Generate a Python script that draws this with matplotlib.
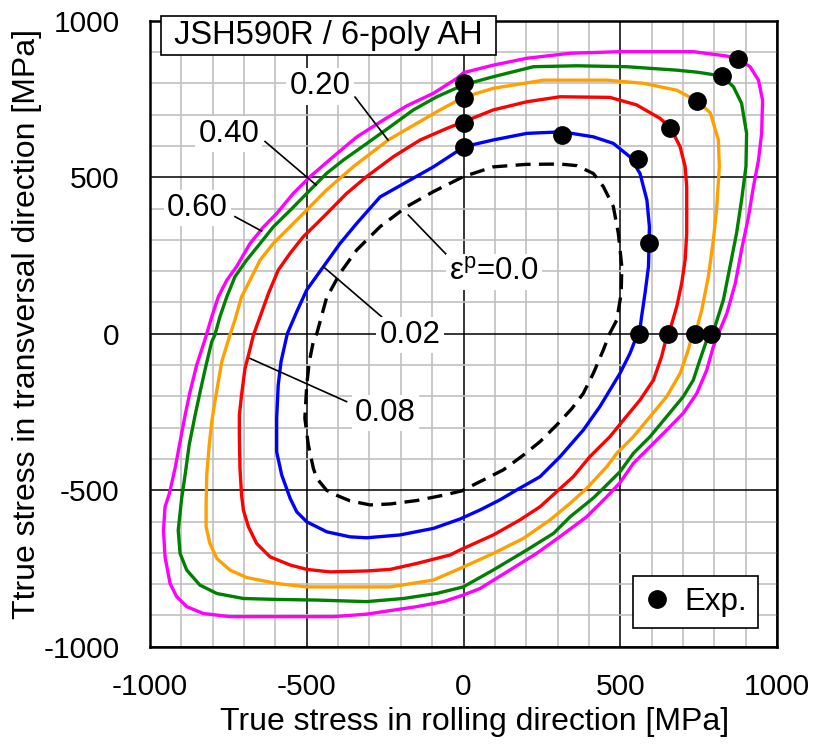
import matplotlib
matplotlib.use('Agg')
import matplotlib.pyplot as plt
import numpy as np

plt.rcParams['font.family'] = ['Liberation Sans', 'DejaVu Sans']
plt.rcParams['mathtext.fontset'] = 'custom'
plt.rcParams['mathtext.rm'] = 'Liberation Sans'
plt.rcParams['axes.unicode_minus'] = False

# yield loci (MPa), counter-clockwise from the RD axis
locus_000 = [(466,0),(489,44),(503,129),(505,214),(494,320),(478,406),(446,470),(414,512),(361,537),
             (308,542),(200,541),(95,533),(0,502),(-96,454),(-181,406),(-266,342),(-341,267),(-394,193),
             (-437,114),(-468,0),(-479,-25),(-492,-90),(-500,-164),(-506,-270),(-495,-355),(-479,-430),
             (-468,-462),(-437,-500),(-415,-512),(-362,-534),(-298,-547),(-234,-544),(-149,-533),(-64,-516),
             (-5,-502),(10,-494),(74,-462),(127,-435),(191,-388),(244,-345),(297,-292),(345,-240),
             (382,-191),(414,-127),(446,-52)]
locus_002 = [(561,0),(568,54),(579,129),(590,214),(592,289),(593,342),(585,427),(563,512),(531,565),
             (478,608),(414,629),(314,645),(202,640),(95,619),(0,597),(-21,582),(-96,533),(-181,485),
             (-266,437),(-341,352),(-394,288),(-447,214),(-500,140),(-532,70),(-562,0),(-582,-89),
             (-591,-164),(-596,-270),(-596,-377),(-580,-451),(-553,-526),(-532,-569),(-500,-601),
             (-436,-633),(-362,-649),(-309,-652),(-203,-643),(-96,-622),(-11,-592),(53,-563),(116,-531),
             (170,-499),(244,-457),(308,-393),(382,-308),(435,-233),(467,-180),(499,-127),(531,-63),(552,-9)]
locus_008 = [(655,0),(680,86),(696,161),(707,236),(712,321),(712,470),(707,534),(691,597),(660,658),
             (627,688),(552,731),(467,755),(308,757),(202,741),(95,715),(0,677),(-53,656),(-138,619),
             (-223,566),(-309,502),(-373,448),(-436,384),(-468,352),(-511,310),(-553,257),(-591,203),
             (-622,129),(-649,54),(-670,-4),(-683,-57),(-697,-111),(-708,-196),(-715,-261),(-715,-324),
             (-713,-430),(-708,-515),(-702,-564),(-686,-617),(-660,-670),(-617,-713),(-553,-739),
             (-500,-753),(-426,-761),(-309,-758),(-234,-753),(-149,-734),(-43,-707),(-11,-691),(95,-643),
             (180,-595),(244,-553),(297,-505),(350,-457),(403,-393),(467,-329),(515,-270),(563,-212),
             (606,-148),(632,-73),(648,-9)]
locus_020 = [(740,0),(760,76),(781,182),(797,299),(808,406),(816,534),(813,619),(787,706),(744,744),
             (680,778),(574,800),(457,810),(255,810),(95,784),(0,755),(-75,715),(-149,672),(-240,619),
             (-351,534),(-437,459),(-511,384),(-564,331),(-607,288),(-649,235),(-681,171),(-708,118),
             (-729,44),(-745,-4),(-771,-89),(-782,-153),(-793,-217),(-803,-281),(-811,-355),(-819,-451),
             (-821,-547),(-821,-617),(-809,-670),(-787,-718),(-745,-755),(-692,-779),(-596,-798),
             (-500,-809),(-362,-809),(-234,-809),(-96,-787),(-11,-750),(95,-702),(191,-654),(276,-595),
             (340,-542),(393,-494),(457,-425),(489,-382),(542,-329),(595,-265),(648,-201),(691,-127),
             (717,-52),(728,-9)]
locus_040 = [(795,0),(829,108),(850,214),(871,321),(887,427),(901,534),(903,640),(887,736),(861,789),
             (825,823),(750,835),(680,842),(520,853),(361,856),(223,853),(95,821),(0,795),(-85,757),
             (-160,715),(-234,661),(-308,608),(-383,555),(-437,512),(-500,448),(-553,394),(-607,341),
             (-649,288),(-692,235),(-729,182),(-755,118),(-777,54),(-793,-4),(-803,-25),(-821,-100),
             (-840,-185),(-856,-260),(-875,-355),(-888,-451),(-899,-526),(-910,-628),(-904,-702),
             (-883,-755),(-841,-803),(-787,-830),(-702,-846),(-596,-849),(-468,-851),(-309,-856),
             (-192,-846),(-86,-830),(-1,-809),(95,-755),(202,-691),(287,-638),(340,-585),(414,-525),
             (450,-490),(500,-440),(542,-382),(595,-329),(648,-265),(701,-201),(733,-148),(754,-84),(776,-20)]
locus_060 = [(813,0),(840,65),(867,161),(887,268),(909,374),(925,470),(941,555),(951,640),(954,746),
             (941,810),(914,853),(877,877),(840,887),(733,901),(499,901),(340,896),(202,880),(95,858),
             (0,834),(-21,816),(-96,768),(-181,728),(-255,683),(-340,629),(-415,566),(-489,502),(-543,448),
             (-596,384),(-638,341),(-681,288),(-724,214),(-755,171),(-782,118),(-803,54),(-825,-20),
             (-851,-100),(-872,-185),(-888,-260),(-904,-345),(-920,-430),(-938,-510),(-952,-553),
             (-957,-628),(-952,-713),(-936,-798),(-915,-840),(-883,-872),(-830,-894),(-745,-904),
             (-575,-904),(-415,-904),(-309,-896),(-256,-888),(-149,-872),(-64,-856),(-1,-835),(53,-814),
             (148,-755),(233,-702),(308,-648),(393,-585),(457,-521),(500,-475),(542,-414),(595,-361),
             (648,-308),(701,-254),(744,-191),(776,-116),(797,-41)]

# experiments
exp_x = [877, 825, 744, 660, 557, 314, 592, 561, 653, 739, 788, 0, 0, 0, 0]
exp_y = [877, 823, 744, 658, 557, 635, 289, 0, 0, 0, 0, 800, 752, 674, 596]

# curve labels and leader lines
lab_text = ['0.20', '0.40', '0.60', '0.02', '0.08', 'ε$^\\mathregular{p}$=0.0']
lab_x = [-458, -749, -848, -171, -249, 96]
lab_y = [790, 637, 401, -4, -254, 198]
lead_x0 = [-346, -633, -729, -447, -681, -176]
lead_y0 = [756, 614, 374, 214, -79, 379]
lead_x1 = [-241, -470, -644, -261, -373, -43]
lead_y1 = [619, 475, 328, 54, -217, 241]

fig = plt.figure(figsize=(8.16, 7.49), dpi=100)
ax = fig.add_axes([150/816, 1-646.7/749, 627/816, 626/749])
ax.set_xlim(-1000, 1000)
ax.set_ylim(-1000, 1000)

ax.set_xticks(np.arange(-1000, 1001, 500))
ax.set_yticks(np.arange(-1000, 1001, 500))
minor = [v for v in range(-900, 1000, 100) if v % 500 != 0]
ax.set_xticks(minor, minor=True)
ax.set_yticks(minor, minor=True)
ax.grid(which='minor', color='#c0c0c0', lw=1.2)
ax.grid(which='major', color='black', lw=1.1)
ax.set_axisbelow(True)
ax.tick_params(which='both', length=0)
ax.tick_params(axis='x', labelsize=21.5, pad=19)
ax.tick_params(axis='y', labelsize=21.5, pad=22)
for s in ax.spines.values():
    s.set_linewidth(1.8)

curves = [(locus_060, '#ff00ff', '-'), (locus_040, '#008000', '-'), (locus_020, '#ffa000', '-'),
          (locus_008, '#ff0000', '-'), (locus_002, '#0000ff', '-'), (locus_000, 'black', (0, (4.5, 2.5)))]
for pts, c, ls in curves:
    xs = [p[0] for p in pts] + [pts[0][0]]
    ys = [p[1] for p in pts] + [pts[0][1]]
    ax.plot(xs, ys, color=c, lw=2.4, ls=ls, zorder=3)

ax.plot(exp_x, exp_y, 'o', color='black', ms=12.5, zorder=5, label='Exp.')

for i in range(len(lab_text)):
    ax.plot([lead_x0[i], lead_x1[i]], [lead_y0[i], lead_y1[i]], color='black', lw=1.2, zorder=4)
    ax.text(lab_x[i], lab_y[i], lab_text[i], fontsize=22.5, ha='center', va='center', zorder=4,
            bbox=dict(boxstyle='square,pad=0.1', fc='white', ec='none'))

ax.text(-430, 953, ' JSH590R / 6-poly AH ', fontsize=23.5, ha='center', va='center', zorder=6,
        bbox=dict(boxstyle='square,pad=0.12', fc='white', ec='black', lw=1.2), clip_on=False)

leg = ax.legend(loc='lower right', fontsize=22.5, fancybox=False, edgecolor='black', framealpha=1,
                borderaxespad=0.6, handlelength=0.8, handletextpad=0.5, borderpad=0.35)
leg.get_frame().set_linewidth(1.2)

ax.set_xlabel('True stress in rolling direction [MPa]', fontsize=23)
ax.set_ylabel('Ttrue stress in transversal direction [MPa]', fontsize=23)
ax.xaxis.label.set_va('center')
ax.yaxis.label.set_va('center')
ax.xaxis.set_label_coords(0.518, -0.12)
ax.yaxis.set_label_coords(-0.196, 0.515)

plt.savefig('out.png', dpi=100)
